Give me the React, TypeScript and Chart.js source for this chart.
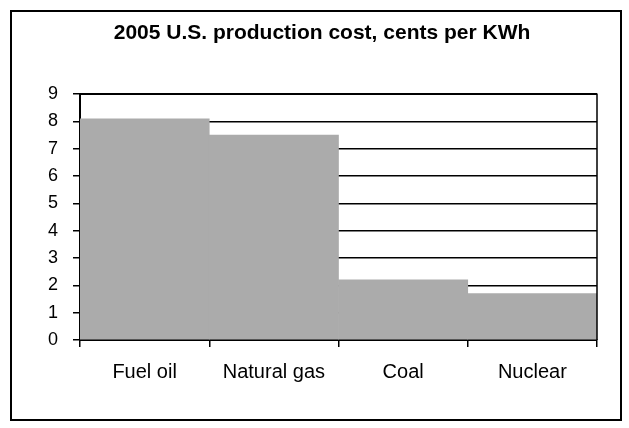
import React, { useEffect, useRef } from "react";
import { Chart, registerables } from "chart.js";

Chart.register(...registerables);

const TITLE = "2005 U.S. production cost, cents per KWh";
const categories = ["Fuel oil", "Natural gas", "Coal", "Nuclear"];
const costs = [8.1, 7.5, 2.2, 1.7];
const yMin = 0;
const yMax = 9;
const yStep = 1;

const FONT = "'Liberation Sans', Arial, sans-serif";

const plotBorder = {
  id: "plotBorder",
  afterDatasetsDraw(chart: any) {
    const { ctx, chartArea } = chart;
    ctx.save();
    ctx.strokeStyle = "#000";
    ctx.lineWidth = 1.5;
    ctx.beginPath();
    ctx.moveTo(chartArea.left, chartArea.top);
    ctx.lineTo(chartArea.right, chartArea.top);
    ctx.lineTo(chartArea.right, chartArea.bottom);
    ctx.stroke();
    ctx.restore();
  },
};

export default function App() {
  const ref = useRef<HTMLCanvasElement | null>(null);
  useEffect(() => {
    if (!ref.current) return;
    const chart = new Chart(ref.current, {
      type: "bar",
      data: {
        labels: categories,
        datasets: [
          {
            data: costs,
            backgroundColor: "#ababab",
            borderWidth: 0,
            barPercentage: 1,
            categoryPercentage: 1,
          },
        ],
      },
      options: {
        responsive: false,
        animation: false,
        layout: { padding: { top: 12, left: 47, right: 32, bottom: 31 } },
        plugins: {
          legend: { display: false },
          tooltip: { enabled: false },
          title: {
            display: true,
            text: TITLE,
            color: "#000",
            font: { family: FONT, size: 21, weight: "bold" },
            padding: { top: 9, bottom: 48 },
          },
        },
        scales: {
          x: {
            grid: {
              display: true,
              drawOnChartArea: false,
              drawTicks: true,
              tickLength: 7,
              offset: true,
              color: "#000",
              lineWidth: 1.5,
            },
            border: { display: true, color: "#000", width: 2 },
            ticks: {
              color: "#000",
              font: { family: FONT, size: 20 },
              padding: 13,
              maxRotation: 0,
            },
          },
          y: {
            min: yMin,
            max: yMax,
            afterFit: (scale: any) => {
              scale.width = 33;
            },
            grid: {
              color: "#000",
              lineWidth: 1.5,
              tickLength: 7,
              drawTicks: true,
            },
            border: { display: true, color: "#000", width: 2 },
            ticks: {
              stepSize: yStep,
              color: "#000",
              font: { family: FONT, size: 18 },
              padding: 15,
            },
          },
        },
      },
      plugins: [plotBorder],
    });
    return () => chart.destroy();
  }, []);

  return (
    <div
      style={{
        position: "fixed",
        left: 0,
        top: 0,
        width: 629,
        height: 428,
        background: "#fff",
      }}
    >
      <div
        style={{
          position: "absolute",
          left: 10,
          top: 10,
          width: 612,
          height: 411,
          border: "2px solid #000",
          boxSizing: "border-box",
        }}
      />
      <canvas
        ref={ref}
        width={629}
        height={428}
        style={{ position: "absolute", left: 0, top: 0 }}
      />
    </div>
  );
}
